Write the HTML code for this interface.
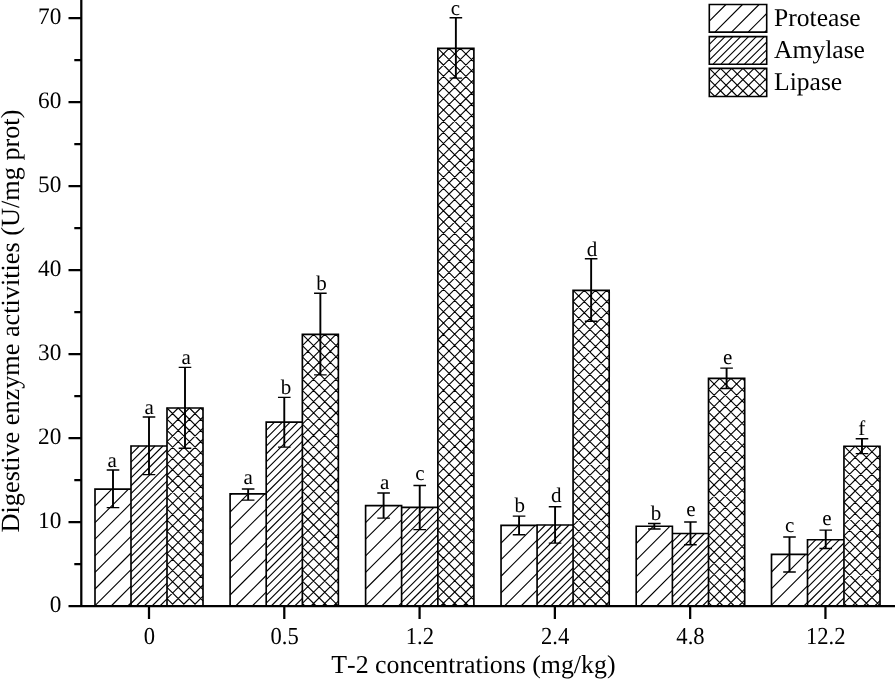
<!DOCTYPE html>
<html><head><meta charset="utf-8"><title>Digestive enzyme activities</title>
<style>html,body{margin:0;padding:0;background:#fff}svg{display:block}text{text-rendering:geometricPrecision;font-kerning:none;font-family:"Liberation Serif","Times New Roman",serif;fill:#000}</style></head>
<body>
<svg width="895" height="679" viewBox="0 0 895 679">
<rect width="895" height="679" fill="#fff"/>
<path d="M95 489.4L95.3 489.1M95 506L111.9 489.1M95 522.6L128.5 489.1M95 539.2L131 503.2M95 555.8L131 519.8M95 572.4L131 536.4M95 589L131 553M95 605.6L131 569.6M111.2 606L131 586.2M127.8 606L131 602.8M131 446.5L131.5 446M131 454.35L139.35 446M131 462.2L147.2 446M131 470.05L155.05 446M131 477.9L162.9 446M131 485.75L167 449.75M131 493.6L167 457.6M131 501.45L167 465.45M131 509.3L167 473.3M131 517.15L167 481.15M131 525L167 489M131 532.85L167 496.85M131 540.7L167 504.7M131 548.55L167 512.55M131 556.4L167 520.4M131 564.25L167 528.25M131 572.1L167 536.1M131 579.95L167 543.95M131 587.8L167 551.8M131 595.65L167 559.65M131 603.5L167 567.5M136.35 606L167 575.35M144.2 606L167 583.2M152.05 606L167 591.05M159.9 606L167 598.9M167 419.21L178.21 408M167 430.42L189.42 408M167 441.63L200.63 408M167 452.84L203 416.84M167 464.05L203 428.05M167 475.26L203 439.26M167 486.47L203 450.47M167 497.68L203 461.68M167 508.89L203 472.89M167 520.1L203 484.1M167 531.31L203 495.31M167 542.52L203 506.52M167 553.73L203 517.73M167 564.94L203 528.94M167 576.15L203 540.15M167 587.36L203 551.36M167 598.57L203 562.57M170.78 606L203 573.78M181.99 606L203 584.99M193.2 606L203 596.2M167 598.57L174.43 606M167 587.36L185.64 606M167 576.15L196.85 606M167 564.94L203 600.94M167 553.73L203 589.73M167 542.52L203 578.52M167 531.31L203 567.31M167 520.1L203 556.1M167 508.89L203 544.89M167 497.68L203 533.68M167 486.47L203 522.47M167 475.26L203 511.26M167 464.05L203 500.05M167 452.84L203 488.84M167 441.63L203 477.63M167 430.42L203 466.42M167 419.21L203 455.21M167 408L203 444M178.21 408L203 432.79M189.42 408L203 421.58M200.63 408L203 410.37M230.1 495.4L231.6 493.9M230.1 512L248.2 493.9M230.1 528.6L264.8 493.9M230.1 545.2L266.2 509.1M230.1 561.8L266.2 525.7M230.1 578.4L266.2 542.3M230.1 595L266.2 558.9M235.7 606L266.2 575.5M252.3 606L266.2 592.1M266.2 422.6L266.7 422.1M266.2 430.45L274.55 422.1M266.2 438.3L282.4 422.1M266.2 446.15L290.25 422.1M266.2 454L298.1 422.1M266.2 461.85L302.36 425.69M266.2 469.7L302.36 433.54M266.2 477.55L302.36 441.39M266.2 485.4L302.36 449.24M266.2 493.25L302.36 457.09M266.2 501.1L302.36 464.94M266.2 508.95L302.36 472.79M266.2 516.8L302.36 480.64M266.2 524.65L302.36 488.49M266.2 532.5L302.36 496.34M266.2 540.35L302.36 504.19M266.2 548.2L302.36 512.04M266.2 556.05L302.36 519.89M266.2 563.9L302.36 527.74M266.2 571.75L302.36 535.59M266.2 579.6L302.36 543.44M266.2 587.45L302.36 551.29M266.2 595.3L302.36 559.14M266.2 603.15L302.36 566.99M271.2 606L302.36 574.84M279.05 606L302.36 582.69M286.9 606L302.36 590.54M294.75 606L302.36 598.39M302.36 345.61L313.57 334.4M302.36 356.82L324.78 334.4M302.36 368.03L335.99 334.4M302.36 379.24L338.36 343.24M302.36 390.45L338.36 354.45M302.36 401.66L338.36 365.66M302.36 412.87L338.36 376.87M302.36 424.08L338.36 388.08M302.36 435.29L338.36 399.29M302.36 446.5L338.36 410.5M302.36 457.71L338.36 421.71M302.36 468.92L338.36 432.92M302.36 480.13L338.36 444.13M302.36 491.34L338.36 455.34M302.36 502.55L338.36 466.55M302.36 513.76L338.36 477.76M302.36 524.97L338.36 488.97M302.36 536.18L338.36 500.18M302.36 547.39L338.36 511.39M302.36 558.6L338.36 522.6M302.36 569.81L338.36 533.81M302.36 581.02L338.36 545.02M302.36 592.23L338.36 556.23M302.36 603.44L338.36 567.44M311.01 606L338.36 578.65M322.22 606L338.36 589.86M333.43 606L338.36 601.07M302.36 603.44L304.92 606M302.36 592.23L316.13 606M302.36 581.02L327.34 606M302.36 569.81L338.36 605.81M302.36 558.6L338.36 594.6M302.36 547.39L338.36 583.39M302.36 536.18L338.36 572.18M302.36 524.97L338.36 560.97M302.36 513.76L338.36 549.76M302.36 502.55L338.36 538.55M302.36 491.34L338.36 527.34M302.36 480.13L338.36 516.13M302.36 468.92L338.36 504.92M302.36 457.71L338.36 493.71M302.36 446.5L338.36 482.5M302.36 435.29L338.36 471.29M302.36 424.08L338.36 460.08M302.36 412.87L338.36 448.87M302.36 401.66L338.36 437.66M302.36 390.45L338.36 426.45M302.36 379.24L338.36 415.24M302.36 368.03L338.36 404.03M302.36 356.82L338.36 392.82M302.36 345.61L338.36 381.61M302.36 334.4L338.36 370.4M313.57 334.4L338.36 359.19M324.78 334.4L338.36 347.98M335.99 334.4L338.36 336.77M365.6 506L366 505.6M365.6 522.6L382.6 505.6M365.6 539.2L399.2 505.6M365.6 555.8L401.6 519.8M365.6 572.4L401.6 536.4M365.6 589L401.6 553M365.6 605.6L401.6 569.6M381.8 606L401.6 586.2M398.4 606L401.6 602.8M401.6 508.2L402.4 507.4M401.6 516.05L410.25 507.4M401.6 523.9L418.1 507.4M401.6 531.75L425.95 507.4M401.6 539.6L433.8 507.4M401.6 547.45L437.86 511.19M401.6 555.3L437.86 519.04M401.6 563.15L437.86 526.89M401.6 571L437.86 534.74M401.6 578.85L437.86 542.59M401.6 586.7L437.86 550.44M401.6 594.55L437.86 558.29M401.6 602.4L437.86 566.14M405.85 606L437.86 573.99M413.7 606L437.86 581.84M421.55 606L437.86 589.69M429.4 606L437.86 597.54M437.25 606L437.86 605.39M437.86 59.51L449.07 48.3M437.86 70.72L460.28 48.3M437.86 81.93L471.49 48.3M437.86 93.14L473.88 57.12M437.86 104.35L473.88 68.33M437.86 115.56L473.88 79.54M437.86 126.77L473.88 90.75M437.86 137.98L473.88 101.96M437.86 149.19L473.88 113.17M437.86 160.4L473.88 124.38M437.86 171.61L473.88 135.59M437.86 182.82L473.88 146.8M437.86 194.03L473.88 158.01M437.86 205.24L473.88 169.22M437.86 216.45L473.88 180.43M437.86 227.66L473.88 191.64M437.86 238.87L473.88 202.85M437.86 250.08L473.88 214.06M437.86 261.29L473.88 225.27M437.86 272.5L473.88 236.48M437.86 283.71L473.88 247.69M437.86 294.92L473.88 258.9M437.86 306.13L473.88 270.11M437.86 317.34L473.88 281.32M437.86 328.55L473.88 292.53M437.86 339.76L473.88 303.74M437.86 350.97L473.88 314.95M437.86 362.18L473.88 326.16M437.86 373.39L473.88 337.37M437.86 384.6L473.88 348.58M437.86 395.81L473.88 359.79M437.86 407.02L473.88 371M437.86 418.23L473.88 382.21M437.86 429.44L473.88 393.42M437.86 440.65L473.88 404.63M437.86 451.86L473.88 415.84M437.86 463.07L473.88 427.05M437.86 474.28L473.88 438.26M437.86 485.49L473.88 449.47M437.86 496.7L473.88 460.68M437.86 507.91L473.88 471.89M437.86 519.12L473.88 483.1M437.86 530.33L473.88 494.31M437.86 541.54L473.88 505.52M437.86 552.75L473.88 516.73M437.86 563.96L473.88 527.94M437.86 575.17L473.88 539.15M437.86 586.38L473.88 550.36M437.86 597.59L473.88 561.57M440.66 606L473.88 572.78M451.87 606L473.88 583.99M463.08 606L473.88 595.2M437.86 597.59L446.27 606M437.86 586.38L457.48 606M437.86 575.17L468.69 606M437.86 563.96L473.88 599.98M437.86 552.75L473.88 588.77M437.86 541.54L473.88 577.56M437.86 530.33L473.88 566.35M437.86 519.12L473.88 555.14M437.86 507.91L473.88 543.93M437.86 496.7L473.88 532.72M437.86 485.49L473.88 521.51M437.86 474.28L473.88 510.3M437.86 463.07L473.88 499.09M437.86 451.86L473.88 487.88M437.86 440.65L473.88 476.67M437.86 429.44L473.88 465.46M437.86 418.23L473.88 454.25M437.86 407.02L473.88 443.04M437.86 395.81L473.88 431.83M437.86 384.6L473.88 420.62M437.86 373.39L473.88 409.41M437.86 362.18L473.88 398.2M437.86 350.97L473.88 386.99M437.86 339.76L473.88 375.78M437.86 328.55L473.88 364.57M437.86 317.34L473.88 353.36M437.86 306.13L473.88 342.15M437.86 294.92L473.88 330.94M437.86 283.71L473.88 319.73M437.86 272.5L473.88 308.52M437.86 261.29L473.88 297.31M437.86 250.08L473.88 286.1M437.86 238.87L473.88 274.89M437.86 227.66L473.88 263.68M437.86 216.45L473.88 252.47M437.86 205.24L473.88 241.26M437.86 194.03L473.88 230.05M437.86 182.82L473.88 218.84M437.86 171.61L473.88 207.63M437.86 160.4L473.88 196.42M437.86 149.19L473.88 185.21M437.86 137.98L473.88 174M437.86 126.77L473.88 162.79M437.86 115.56L473.88 151.58M437.86 104.35L473.88 140.37M437.86 93.14L473.88 129.16M437.86 81.93L473.88 117.95M437.86 70.72L473.88 106.74M437.86 59.51L473.88 95.53M437.86 48.3L473.88 84.32M449.07 48.3L473.88 73.11M460.28 48.3L473.88 61.9M471.49 48.3L473.88 50.69M501.05 526.45L502.1 525.4M501.05 543.05L518.7 525.4M501.05 559.65L535.3 525.4M501.05 576.25L537.08 540.22M501.05 592.85L537.08 556.82M504.5 606L537.08 573.42M521.1 606L537.08 590.02M537.08 525.5L537.58 525M537.08 533.35L545.43 525M537.08 541.2L553.28 525M537.08 549.05L561.13 525M537.08 556.9L568.98 525M537.08 564.75L573.08 528.75M537.08 572.6L573.08 536.6M537.08 580.45L573.08 544.45M537.08 588.3L573.08 552.3M537.08 596.15L573.08 560.15M537.08 604L573.08 568M542.93 606L573.08 575.85M550.78 606L573.08 583.7M558.63 606L573.08 591.55M566.48 606L573.08 599.4M573.08 301.51L584.29 290.3M573.08 312.72L595.5 290.3M573.08 323.93L606.71 290.3M573.08 335.14L609.2 299.02M573.08 346.35L609.2 310.23M573.08 357.56L609.2 321.44M573.08 368.77L609.2 332.65M573.08 379.98L609.2 343.86M573.08 391.19L609.2 355.07M573.08 402.4L609.2 366.28M573.08 413.61L609.2 377.49M573.08 424.82L609.2 388.7M573.08 436.03L609.2 399.91M573.08 447.24L609.2 411.12M573.08 458.45L609.2 422.33M573.08 469.66L609.2 433.54M573.08 480.87L609.2 444.75M573.08 492.08L609.2 455.96M573.08 503.29L609.2 467.17M573.08 514.5L609.2 478.38M573.08 525.71L609.2 489.59M573.08 536.92L609.2 500.8M573.08 548.13L609.2 512.01M573.08 559.34L609.2 523.22M573.08 570.55L609.2 534.43M573.08 581.76L609.2 545.64M573.08 592.97L609.2 556.85M573.08 604.18L609.2 568.06M582.47 606L609.2 579.27M593.68 606L609.2 590.48M604.89 606L609.2 601.69M573.08 604.18L574.9 606M573.08 592.97L586.11 606M573.08 581.76L597.32 606M573.08 570.55L608.53 606M573.08 559.34L609.2 595.46M573.08 548.13L609.2 584.25M573.08 536.92L609.2 573.04M573.08 525.71L609.2 561.83M573.08 514.5L609.2 550.62M573.08 503.29L609.2 539.41M573.08 492.08L609.2 528.2M573.08 480.87L609.2 516.99M573.08 469.66L609.2 505.78M573.08 458.45L609.2 494.57M573.08 447.24L609.2 483.36M573.08 436.03L609.2 472.15M573.08 424.82L609.2 460.94M573.08 413.61L609.2 449.73M573.08 402.4L609.2 438.52M573.08 391.19L609.2 427.31M573.08 379.98L609.2 416.1M573.08 368.77L609.2 404.89M573.08 357.56L609.2 393.68M573.08 346.35L609.2 382.47M573.08 335.14L609.2 371.26M573.08 323.93L609.2 360.05M573.08 312.72L609.2 348.84M573.08 301.51L609.2 337.63M573.08 290.3L609.2 326.42M584.29 290.3L609.2 315.21M595.5 290.3L609.2 304M606.71 290.3L609.2 292.79M636.2 526.9L636.9 526.2M636.2 543.5L653.5 526.2M636.2 560.1L670.1 526.2M636.2 576.7L672.4 540.5M636.2 593.3L672.4 557.1M640.1 606L672.4 573.7M656.7 606L672.4 590.3M672.4 534L672.9 533.5M672.4 541.85L680.75 533.5M672.4 549.7L688.6 533.5M672.4 557.55L696.45 533.5M672.4 565.4L704.3 533.5M672.4 573.25L708.5 537.15M672.4 581.1L708.5 545M672.4 588.95L708.5 552.85M672.4 596.8L708.5 560.7M672.4 604.65L708.5 568.55M678.9 606L708.5 576.4M686.75 606L708.5 584.25M694.6 606L708.5 592.1M702.45 606L708.5 599.95M708.5 389.61L719.71 378.4M708.5 400.82L730.92 378.4M708.5 412.03L742.13 378.4M708.5 423.24L744.7 387.04M708.5 434.45L744.7 398.25M708.5 445.66L744.7 409.46M708.5 456.87L744.7 420.67M708.5 468.08L744.7 431.88M708.5 479.29L744.7 443.09M708.5 490.5L744.7 454.3M708.5 501.71L744.7 465.51M708.5 512.92L744.7 476.72M708.5 524.13L744.7 487.93M708.5 535.34L744.7 499.14M708.5 546.55L744.7 510.35M708.5 557.76L744.7 521.56M708.5 568.97L744.7 532.77M708.5 580.18L744.7 543.98M708.5 591.39L744.7 555.19M708.5 602.6L744.7 566.4M716.31 606L744.7 577.61M727.52 606L744.7 588.82M738.73 606L744.7 600.03M708.5 602.6L711.9 606M708.5 591.39L723.11 606M708.5 580.18L734.32 606M708.5 568.97L744.7 605.17M708.5 557.76L744.7 593.96M708.5 546.55L744.7 582.75M708.5 535.34L744.7 571.54M708.5 524.13L744.7 560.33M708.5 512.92L744.7 549.12M708.5 501.71L744.7 537.91M708.5 490.5L744.7 526.7M708.5 479.29L744.7 515.49M708.5 468.08L744.7 504.28M708.5 456.87L744.7 493.07M708.5 445.66L744.7 481.86M708.5 434.45L744.7 470.65M708.5 423.24L744.7 459.44M708.5 412.03L744.7 448.23M708.5 400.82L744.7 437.02M708.5 389.61L744.7 425.81M708.5 378.4L744.7 414.6M719.71 378.4L744.7 403.39M730.92 378.4L744.7 392.18M742.13 378.4L744.7 380.97M771.5 555.4L772.5 554.4M771.5 572L789.1 554.4M771.5 588.6L805.7 554.4M771.5 605.2L807.5 569.2M787.3 606L807.5 585.8M803.9 606L807.5 602.4M807.5 540.2L808 539.7M807.5 548.05L815.85 539.7M807.5 555.9L823.7 539.7M807.5 563.75L831.55 539.7M807.5 571.6L839.4 539.7M807.5 579.45L843.95 543M807.5 587.3L843.95 550.85M807.5 595.15L843.95 558.7M807.5 603L843.95 566.55M812.35 606L843.95 574.4M820.2 606L843.95 582.25M828.05 606L843.95 590.1M835.9 606L843.95 597.95M843.95 457.41L855.16 446.2M843.95 468.62L866.37 446.2M843.95 479.83L877.58 446.2M843.95 491.04L880 454.99M843.95 502.25L880 466.2M843.95 513.46L880 477.41M843.95 524.67L880 488.62M843.95 535.88L880 499.83M843.95 547.09L880 511.04M843.95 558.3L880 522.25M843.95 569.51L880 533.46M843.95 580.72L880 544.67M843.95 591.93L880 555.88M843.95 603.14L880 567.09M852.3 606L880 578.3M863.51 606L880 589.51M874.72 606L880 600.72M843.95 603.14L846.81 606M843.95 591.93L858.02 606M843.95 580.72L869.23 606M843.95 569.51L880 605.56M843.95 558.3L880 594.35M843.95 547.09L880 583.14M843.95 535.88L880 571.93M843.95 524.67L880 560.72M843.95 513.46L880 549.51M843.95 502.25L880 538.3M843.95 491.04L880 527.09M843.95 479.83L880 515.88M843.95 468.62L880 504.67M843.95 457.41L880 493.46M843.95 446.2L880 482.25M855.16 446.2L880 471.04M866.37 446.2L880 459.83M877.58 446.2L880 448.62" stroke="#000" stroke-width="1.1" fill="none"/>
<path d="M95 606V489.1H131V606M131 606V446H167V606M167 606V408H203V606M230.1 606V493.9H266.2V606M266.2 606V422.1H302.36V606M302.36 606V334.4H338.36V606M365.6 606V505.6H401.6V606M401.6 606V507.4H437.86V606M437.86 606V48.3H473.88V606M501.05 606V525.4H537.08V606M537.08 606V525H573.08V606M573.08 606V290.3H609.2V606M636.2 606V526.2H672.4V606M672.4 606V533.5H708.5V606M708.5 606V378.4H744.7V606M771.5 606V554.4H807.5V606M807.5 606V539.7H843.95V606M843.95 606V446.2H880V606" stroke="#000" stroke-width="1.65" fill="none" stroke-linejoin="miter"/>
<path d="M113 470V507.6M149 417V474.6M185 367.4V448.3M248.15 489V500.1M284.28 397.4V447.1M320.36 293.2V374.9M383.6 493V518.1M419.73 485.5V529.6M455.87 17.8V78.1M519.07 516.1V534.7M555.08 506.8V543.1M591.14 258.8V321.3M654.3 523.5V529M690.45 522V544.7M726.6 368.1V388.5M789.5 537V572M825.73 530.1V548.5M861.98 438.8V453.6" stroke="#000" stroke-width="1.9" fill="none"/>
<path d="M106.7 470H119.3M106.7 507.6H119.3M142.7 417H155.3M142.7 474.6H155.3M178.7 367.4H191.3M178.7 448.3H191.3M241.85 489H254.45M241.85 500.1H254.45M277.98 397.4H290.58M277.98 447.1H290.58M314.06 293.2H326.66M314.06 374.9H326.66M377.3 493H389.9M377.3 518.1H389.9M413.43 485.5H426.03M413.43 529.6H426.03M449.57 17.8H462.17M449.57 78.1H462.17M512.77 516.1H525.37M512.77 534.7H525.37M548.78 506.8H561.38M548.78 543.1H561.38M584.84 258.8H597.44M584.84 321.3H597.44M648 523.5H660.6M648 529H660.6M684.15 522H696.75M684.15 544.7H696.75M720.3 368.1H732.9M720.3 388.5H732.9M783.2 537H795.8M783.2 572H795.8M819.43 530.1H832.02M819.43 548.5H832.02M855.68 438.8H868.27M855.68 453.6H868.27" stroke="#000" stroke-width="1.4" fill="none"/>
<path d="M81.3 0V607M68.5 606.2H895M74.3 564H81.3M68.5 522H81.3M74.3 480H81.3M68.5 438H81.3M74.3 396H81.3M68.5 354H81.3M74.3 312H81.3M68.5 270H81.3M74.3 228H81.3M68.5 186H81.3M74.3 144H81.3M68.5 102H81.3M74.3 60H81.3M68.5 18H81.3M149 606V619M284.29 606V619M419.58 606V619M554.87 606V619M690.16 606V619M825.45 606V619" stroke="#000" stroke-width="2.25" fill="none"/>
<g font-size="23.6">
<text transform="translate(61.4 612.3) scale(0.987 1)" text-anchor="end">0</text><text transform="translate(61.4 528.3) scale(0.987 1)" text-anchor="end">10</text><text transform="translate(61.4 444.3) scale(0.987 1)" text-anchor="end">20</text><text transform="translate(61.4 360.3) scale(0.987 1)" text-anchor="end">30</text><text transform="translate(61.4 276.3) scale(0.987 1)" text-anchor="end">40</text><text transform="translate(61.4 192.3) scale(0.987 1)" text-anchor="end">50</text><text transform="translate(61.4 108.3) scale(0.987 1)" text-anchor="end">60</text><text transform="translate(61.4 24.3) scale(0.987 1)" text-anchor="end">70</text>
<text transform="translate(149.3 643.5) scale(0.927 1)" font-size="24.4" text-anchor="middle">0</text><text transform="translate(284.59 643.5) scale(0.927 1)" font-size="24.4" text-anchor="middle">0.5</text><text transform="translate(419.88 643.5) scale(0.927 1)" font-size="24.4" text-anchor="middle">1.2</text><text transform="translate(555.17 643.5) scale(0.927 1)" font-size="24.4" text-anchor="middle">2.4</text><text transform="translate(690.46 643.5) scale(0.927 1)" font-size="24.4" text-anchor="middle">4.8</text><text transform="translate(825.75 643.5) scale(0.927 1)" font-size="24.4" text-anchor="middle">12.2</text>
</g>
<g font-size="21" text-anchor="middle">
<text x="112.1" y="467.46">a</text><text x="149.27" y="413.57">a</text><text x="186.27" y="364.34">a</text><text x="248.24" y="483.75">a</text><text x="286.12" y="393.87">b</text><text x="321.46" y="290.46">b</text><text x="384.6" y="488.87">a</text><text x="419.96" y="479.8">c</text><text x="455.51" y="14.62">c</text><text x="519.71" y="511.99">b</text><text x="556.19" y="501.57">d</text><text x="592.12" y="255.63">d</text><text x="656.06" y="519.57">b</text><text x="690.93" y="516.4">e</text><text x="727.67" y="364.46">e</text><text x="789.76" y="531.5">c</text><text x="826.86" y="525.4">e</text><text x="861.87" y="434.99">f</text>
</g>
<text x="473.4" y="673" font-size="25.85" text-anchor="middle">T-2 concentrations (mg/kg)</text>
<text transform="translate(19.2 321) rotate(-90)" font-size="26.25" text-anchor="middle">Digestive enzyme activities (U/mg prot)</text>
<path d="M709.3 21.1L725.9 4.5M714.9 32.1L742.5 4.5M731.5 32.1L759.1 4.5M748.1 32.1L766.7 13.5M764.7 32.1L766.7 30.1M709.3 44.45L717.15 36.6M709.3 52.3L725 36.6M709.3 60.15L732.85 36.6M713.1 64.2L740.7 36.6M720.95 64.2L748.55 36.6M728.8 64.2L756.4 36.6M736.65 64.2L764.25 36.6M744.5 64.2L766.7 42M752.35 64.2L766.7 49.85M760.2 64.2L766.7 57.7M709.3 79.61L720.51 68.4M709.3 90.82L731.72 68.4M714.83 96.5L742.93 68.4M726.04 96.5L754.14 68.4M737.25 96.5L765.35 68.4M748.46 96.5L766.7 78.26M759.67 96.5L766.7 89.47M709.3 90.82L714.98 96.5M709.3 79.61L726.19 96.5M709.3 68.4L737.4 96.5M720.51 68.4L748.61 96.5M731.72 68.4L759.82 96.5M742.93 68.4L766.7 92.17M754.14 68.4L766.7 80.96M765.35 68.4L766.7 69.75" stroke="#000" stroke-width="1.1" fill="none"/>
<path d="M709.3 4.5H766.7V32.1H709.3ZM709.3 36.6H766.7V64.2H709.3ZM709.3 68.4H766.7V96.5H709.3Z" stroke="#000" stroke-width="1.6" fill="none"/>
<g font-size="25.6"><text x="774" y="26.25">Protease</text><text x="774" y="58.35">Amylase</text><text x="774" y="90.4">Lipase</text></g>
</svg>
</body></html>
